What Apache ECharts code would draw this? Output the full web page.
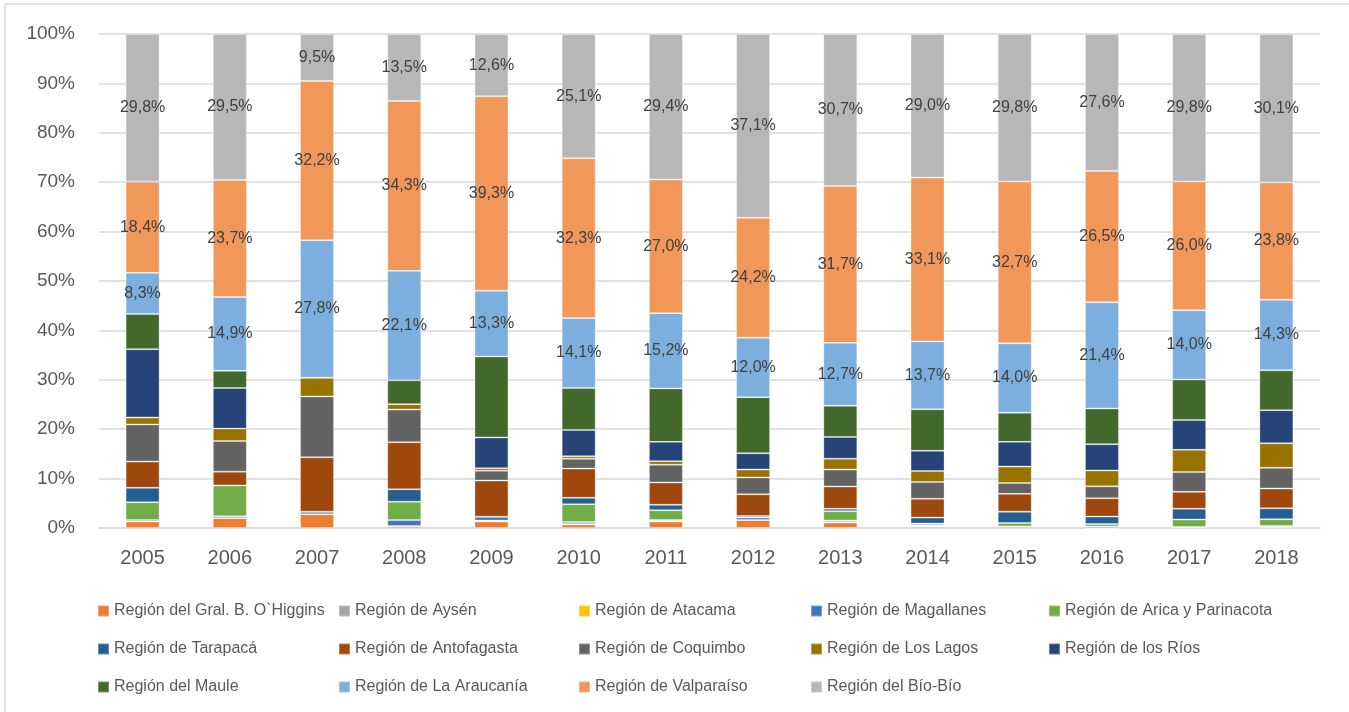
<!DOCTYPE html>
<html>
<head>
<meta charset="utf-8">
<script src="https://cdn.jsdelivr.net/npm/echarts@6/dist/echarts.min.js"></script>
<style>
  html, body { margin: 0; padding: 0; background: #fff; }
  #chart { width: 1349px; height: 712px; }
</style>
</head>
<body>
<div id="chart"></div>
<script>
// años (eje x)
const years = ['2005', '2006', '2007', '2008', '2009', '2010', '2011', '2012', '2013', '2014', '2015', '2016', '2017', '2018']

// participación por región (%), de abajo hacia arriba en la pila
const ohiggins    = [1.3, 2.0, 2.8, 0.4, 1.3, 0.7, 1.3, 1.6, 1.1, 0.3, 0.3, 0.0, 0.1, 0.2]
const aysen       = [0.0, 0.0, 0.0, 0.0, 0.2, 0.1, 0.3, 0.0, 0.1, 0.1, 0.0, 0.0, 0.1, 0.2]
const atacama     = [0.0, 0.0, 0.0, 0.0, 0.0, 0.0, 0.0, 0.0, 0.0, 0.2, 0.0, 0.0, 0.0, 0.0]
const magallanes  = [0.3, 0.4, 0.5, 1.2, 0.8, 0.4, 0.0, 0.5, 0.3, 0.3, 0.0, 0.3, 0.0, 0.0]
const arica       = [3.6, 6.2, 0.0, 3.7, 0.0, 3.6, 2.0, 0.0, 1.9, 0.0, 0.7, 0.5, 1.5, 1.4]
const tarapaca    = [2.9, 0.0, 0.0, 2.5, 0.0, 1.3, 1.1, 0.3, 0.5, 1.2, 2.3, 1.5, 2.2, 2.2]
const antofagasta = [5.3, 2.8, 11.0, 9.5, 7.3, 5.9, 4.5, 4.4, 4.5, 3.8, 3.6, 3.7, 3.4, 4.0]
const coquimbo    = [7.5, 6.2, 12.3, 6.6, 2.0, 2.0, 3.6, 3.4, 3.4, 3.4, 2.2, 2.4, 4.0, 4.2]
const losLagos    = [1.4, 2.5, 3.8, 1.1, 0.5, 0.5, 0.7, 1.6, 2.2, 2.2, 3.3, 3.2, 4.5, 5.0]
const losRios     = [13.8, 8.2, 0.0, 0.0, 6.2, 5.3, 3.9, 3.3, 4.4, 4.1, 5.0, 5.3, 6.0, 6.7]
const maule       = [7.1, 3.5, 0.0, 4.8, 16.4, 8.5, 10.8, 11.3, 6.3, 8.4, 5.9, 7.2, 8.2, 8.1]
const araucania   = [8.3, 14.9, 27.8, 22.1, 13.3, 14.1, 15.2, 12.0, 12.7, 13.7, 14.0, 21.4, 14.0, 14.3]
const valparaiso  = [18.4, 23.7, 32.2, 34.3, 39.3, 32.3, 27.0, 24.2, 31.7, 33.1, 32.7, 26.5, 26.0, 23.8]
const biobio      = [29.8, 29.5, 9.5, 13.5, 12.6, 25.1, 29.4, 37.1, 30.7, 29.0, 29.8, 27.6, 29.8, 30.1]

const regions = [
  { name: 'Región del Gral. B. O`Higgins', data: ohiggins, color: '#ED7D31' },
  { name: 'Región de Aysén', data: aysen, color: '#A5A5A5' },
  { name: 'Región de Atacama', data: atacama, color: '#FFC000' },
  { name: 'Región de Magallanes', data: magallanes, color: '#4472C4' },
  { name: 'Región de Arica y Parinacota', data: arica, color: '#70AD47' },
  { name: 'Región de Tarapacá', data: tarapaca, color: '#255E91' },
  { name: 'Región de Antofagasta', data: antofagasta, color: '#9E480E' },
  { name: 'Región de Coquimbo', data: coquimbo, color: '#636363' },
  { name: 'Región de Los Lagos', data: losLagos, color: '#997300' },
  { name: 'Región de los Ríos', data: losRios, color: '#264478' },
  { name: 'Región del Maule', data: maule, color: '#43682B' },
  { name: 'Región de La Araucanía', data: araucania, color: '#7CAFDD', label: true },
  { name: 'Región de Valparaíso', data: valparaiso, color: '#F1975A', label: true },
  { name: 'Región del Bío-Bío', data: biobio, color: '#B7B7B7', label: true }
]

// totales por año para llevar cada columna al 100%
const totals = years.map((y, i) => regions.reduce((s, r) => s + r.data[i], 0))

const font = 'Liberation Sans, Arial, sans-serif'
const fmt = v => v.toFixed(1).replace('.', ',') + '%'

const series = regions.map(r => ({
  name: r.name,
  type: 'bar',
  stack: 'total',
  barWidth: 34,
  itemStyle: { color: r.color, borderColor: 'rgba(255,255,255,0.3)', borderWidth: 1 },
  label: {
    show: !!r.label,
    position: 'inside',
    fontFamily: font,
    fontSize: 16,
    color: '#404040',
    formatter: p => fmt(r.data[p.dataIndex])
  },
  data: r.data.map((v, i) => v / totals[i] * 100)
}))

// leyenda en columnas, como en el original
const legendCols = [
  { left: 92, names: [0, 5, 10] },
  { left: 333, names: [1, 6, 11] },
  { left: 573, names: [2, 7, 12] },
  { left: 805, names: [3, 8, 13] },
  { left: 1043, names: [4, 9] }
]

const legend = legendCols.map(c => ({
  orient: 'vertical',
  left: c.left,
  top: 596,
  itemWidth: 11,
  itemHeight: 11,
  itemGap: 18,
  icon: 'rect',
  selectedMode: false,
  textStyle: { fontFamily: font, fontSize: 16, color: '#595959', lineHeight: 20 },
  data: c.names.map(i => regions[i].name)
}))

const myChart = echarts.init(document.getElementById('chart'))
myChart.setOption({
  animation: false,
  grid: { left: 99, right: 29, top: 34, bottom: 184 },
  legend: legend,
  xAxis: {
    type: 'category',
    data: years,
    axisTick: { show: false },
    axisLine: { lineStyle: { color: '#D9D9D9', width: 1.5 } },
    axisLabel: { fontFamily: font, fontSize: 20, color: '#595959', margin: 20 }
  },
  yAxis: {
    type: 'value',
    min: 0,
    max: 100,
    interval: 10,
    axisLine: { show: false },
    axisTick: { show: false },
    splitLine: { lineStyle: { color: '#D9D9D9', width: 1.5 } },
    axisLabel: { fontFamily: font, fontSize: 19, color: '#595959', margin: 24, formatter: '{value}%' }
  },
  graphic: [
    { type: 'line', shape: { x1: 5, y1: 4, x2: 1349, y2: 4 }, style: { stroke: '#D9D9D9', lineWidth: 1.5 } },
    { type: 'line', shape: { x1: 5, y1: 4, x2: 5, y2: 712 }, style: { stroke: '#D9D9D9', lineWidth: 1.5 } }
  ],
  series: series
})
</script>
</body>
</html>
